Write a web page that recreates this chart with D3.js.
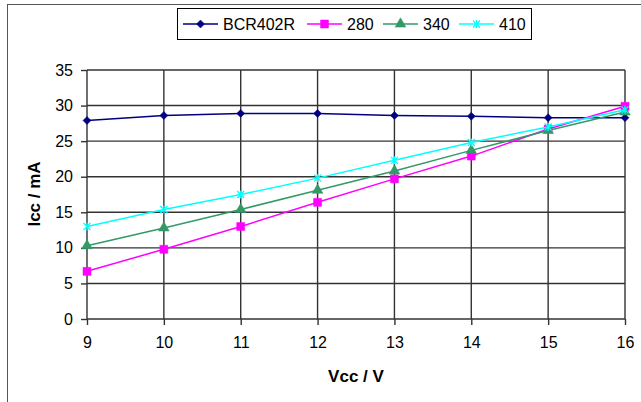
<!DOCTYPE html>
<html>
<head>
    <script src="https://cdn.jsdelivr.net/npm/d3@7"></script>
    <style>
        body { margin: 0; background: #fff; }
        text { font-family: "Liberation Sans", Arial, sans-serif; fill: #000; }
    </style>
</head>
<body>
    <svg width="641" height="402"></svg>
    <script>
        // Vcc values and currents (mA)
        const vcc = [9, 10, 11, 12, 13, 14, 15, 16];
        const bcr402r = [27.9, 28.6, 28.9, 28.9, 28.6, 28.5, 28.3, 28.3];
        const r280 = [6.7, 9.8, 13.0, 16.4, 19.7, 22.9, 26.7, 29.9];
        const r340 = [10.3, 12.8, 15.4, 18.1, 20.8, 23.7, 26.5, 29.1];
        const r410 = [13.0, 15.4, 17.5, 19.8, 22.3, 24.8, 27.0, 29.4];
        const yTicks = [0, 5, 10, 15, 20, 25, 30, 35];

        const series = [
            { name: "BCR402R", values: bcr402r, color: "#000080", marker: "diamond" },
            { name: "280", values: r280, color: "#ff00ff", marker: "square" },
            { name: "340", values: r340, color: "#339966", marker: "triangle" },
            { name: "410", values: r410, color: "#00ffff", marker: "star" }
        ];

        const svg = d3.select("svg");

        // outer chart frame (runs off the right/bottom edge)
        svg.append("rect")
            .attr("x", 7.5).attr("y", 4.5)
            .attr("width", 700).attr("height", 500)
            .attr("fill", "none").attr("stroke", "#555");

        const x = d3.scaleLinear().domain([9, 16]).range([87, 625]);
        const y = d3.scaleLinear().domain([0, 35]).range([319, 70]);

        const grid = svg.append("g").attr("stroke", "#333").attr("stroke-width", 1.4);
        grid.selectAll(".hg").data(yTicks).enter().append("line")
            .attr("x1", x(9)).attr("x2", x(16))
            .attr("y1", d => y(d)).attr("y2", d => y(d));
        grid.selectAll(".vg").data(vcc).enter().append("line")
            .attr("x1", d => x(d)).attr("x2", d => x(d))
            .attr("y1", y(35)).attr("y2", y(0));

        const xAxis = svg.append("g")
            .attr("transform", `translate(0,${y(0)})`)
            .call(d3.axisBottom(x).tickValues(vcc).tickSize(6).tickPadding(12).tickFormat(d3.format("d")));
        const yAxis = svg.append("g")
            .attr("transform", `translate(${x(9)},0)`)
            .call(d3.axisLeft(y).tickValues(yTicks).tickSize(6).tickPadding(8));
        [xAxis, yAxis].forEach(a => {
            a.select(".domain").remove();
            a.selectAll(".tick line").attr("stroke", "#333").attr("stroke-width", 1.4);
            a.selectAll(".tick text").attr("font-size", 16).attr("font-family", "Liberation Sans, Arial, sans-serif");
        });

        function markerPath(type) {
            if (type === "diamond") return "M0,-4L4,0L0,4L-4,0Z";
            if (type === "square") return d3.symbol(d3.symbolSquare, 64)();
            if (type === "triangle") return d3.symbol(d3.symbolTriangle, 50)();
            return "M-3.5,-3.5L3.5,3.5M-3.5,3.5L3.5,-3.5M0,-4L0,4";
        }

        const line = d3.line().x((d, i) => x(vcc[i])).y(d => y(d));

        series.forEach(s => {
            const g = svg.append("g");
            g.append("path")
                .attr("d", line(s.values))
                .attr("fill", "none")
                .attr("stroke", s.color)
                .attr("stroke-width", 1.5);
            g.selectAll("path.m").data(s.values).enter().append("path")
                .attr("class", "m")
                .attr("transform", (d, i) => `translate(${x(vcc[i])},${y(d)})`)
                .attr("d", markerPath(s.marker))
                .attr("fill", s.marker === "star" ? "none" : s.color)
                .attr("stroke", s.color)
                .attr("stroke-width", s.marker === "star" ? 1.3 : 0.5);
        });

        // axis titles
        svg.append("text")
            .attr("x", 356).attr("y", 382)
            .attr("text-anchor", "middle")
            .attr("font-size", 17).attr("font-weight", "bold")
            .text("Vcc / V");
        svg.append("text")
            .attr("transform", "translate(40,194) rotate(-90)")
            .attr("text-anchor", "middle")
            .attr("font-size", 17).attr("font-weight", "bold")
            .text("Icc / mA");

        // legend
        const legend = svg.append("g");
        legend.append("rect")
            .attr("x", 177.5).attr("y", 8.5)
            .attr("width", 354).attr("height", 31)
            .attr("fill", "#fff").attr("stroke", "#000");
        const legendX = [183, 307, 383, 459];
        series.forEach((s, i) => {
            const lx = legendX[i];
            legend.append("line")
                .attr("x1", lx).attr("x2", lx + 35)
                .attr("y1", 24).attr("y2", 24)
                .attr("stroke", s.color).attr("stroke-width", 1.5);
            legend.append("path")
                .attr("transform", `translate(${lx + 17.5},24)`)
                .attr("d", markerPath(s.marker))
                .attr("fill", s.marker === "star" ? "none" : s.color)
                .attr("stroke", s.color)
                .attr("stroke-width", s.marker === "star" ? 1.3 : 0.5);
            legend.append("text")
                .attr("x", lx + 40).attr("y", 30)
                .attr("font-size", 16)
                .text(s.name);
        });
    </script>
</body>
</html>
